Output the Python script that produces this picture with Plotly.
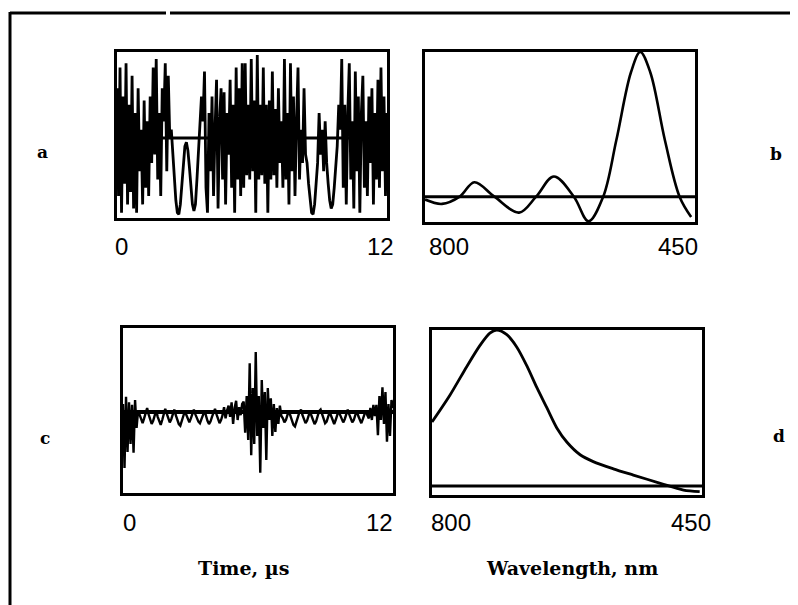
import numpy as np
import plotly.graph_objects as go

# ---- Data ----
# Panel a: time signal, 0-12 us
sig_a = [0.6,-0.7,0.85,-0.9,0.5,-0.55,0.9,-0.8,0.4,-0.65,0.75,-0.85,
         0.3,-0.9,0.6,-0.4,0.1,-0.8,0.45,-0.6,0.2,-0.7,0.5,-0.3,
         0.85,-0.2,0.95,-0.5,0.3,-0.7,0.6,0.2,0.9,-0.4,0.75,0.0,
         0.1,-0.2,-0.5,-0.75,-0.9,-0.92,-0.8,-0.55,-0.3,-0.1,-0.05,-0.15,-0.35,-0.6,-0.8,-0.88,-0.8,-0.5,-0.2,0.2,0.5,0.2,
         0.8,-0.6,-0.9,0.3,-0.4,0.5,-0.7,0.1,0.7,-0.85,0.2,0.6,-0.5,0.55,-0.8,0.3,-0.2,0.7,-0.6,0.4,-0.9,0.85,-0.5,0.6,-0.7,0.9,-0.6,
         0.9,-0.45,0.4,-0.5,0.95,-0.4,0.45,-0.9,1.0,-0.5,0.4,-0.45,0.85,-0.55,0.4,-0.9,0.45,-0.5,0.8,-0.45,0.35,-0.6,0.6,-0.3,
         0.2,-0.6,0.95,-0.5,0.3,-0.8,0.9,-0.4,0.5,-0.7,0.2,0.85,-0.5,0.1,-0.3,0.6,-0.2,
         -0.3,-0.55,-0.75,-0.9,-0.92,-0.8,-0.55,-0.3,0.3,-0.2,0.1,-0.4,0.2,-0.3,-0.55,-0.75,-0.85,-0.8,-0.6,-0.35,-0.1,0.4,0.1,
         0.95,-0.6,0.4,-0.8,0.3,0.9,-0.5,0.2,-0.85,0.8,-0.4,0.5,-0.9,0.3,0.75,-0.6,0.2,-0.7,0.5,-0.3,0.6,-0.8,0.3,-0.5,0.7,-0.6,0.85,-0.4,0.5,-0.7,0.3]

# Panel b: spectrum, wavelength 800 -> 450 nm
wl_b = [800, 778, 755, 736, 710, 678, 656, 633, 607, 588, 569, 552, 533, 521, 508, 489, 470, 455]
sp_b = [-0.02, -0.05, 0.0, 0.10, 0.0, -0.11, 0.0, 0.14, 0.0, -0.17, 0.0, 0.39, 0.86, 1.0, 0.86, 0.39, 0.0, -0.14]

# Panel c: time signal, 0-12 us
sig_c = [0.1,-0.7,0.19,-0.5,0.12,-0.4,0.09,-0.51,0.15,-0.2,
         0.02,-0.04,-0.1,-0.14,-0.08,0.0,0.05,-0.03,-0.09,-0.15,-0.11,-0.04,0.02,-0.06,-0.12,-0.16,-0.1,-0.03,0.04,-0.02,
         -0.08,-0.13,-0.09,-0.02,0.03,-0.04,-0.1,-0.15,-0.17,-0.12,-0.05,0.01,-0.04,-0.09,-0.13,-0.08,-0.02,0.03,-0.03,-0.08,
         -0.12,-0.14,-0.1,-0.04,0.02,-0.05,-0.11,-0.15,-0.12,-0.06,0.0,0.04,-0.03,-0.09,-0.14,-0.1,-0.04,0.06,-0.08,0.02,
         0.08,-0.06,0.12,-0.15,0.05,0.14,-0.1,0.06,-0.04,0.1,
         0.13,-0.26,0.2,-0.35,0.61,-0.54,0.3,-0.4,0.75,-0.3,0.2,-0.76,0.4,-0.2,0.25,-0.6,0.3,-0.1,0.17,-0.3,0.1,-0.25,0.05,-0.15,0.08,-0.05,
         -0.08,-0.13,-0.1,-0.04,0.02,-0.05,-0.11,-0.16,-0.18,-0.13,-0.06,0.0,0.03,-0.04,-0.1,-0.14,-0.11,-0.05,0.01,-0.05,
         -0.1,-0.15,-0.12,-0.06,0.01,0.03,-0.03,-0.09,-0.14,-0.12,-0.06,0.0,-0.05,-0.11,-0.15,-0.1,-0.04,0.02,-0.04,-0.09,
         -0.13,-0.09,-0.03,0.03,-0.03,-0.08,-0.13,-0.1,-0.04,0.02,-0.05,-0.1,-0.14,-0.09,-0.03,0.02,-0.04,-0.08,0.05,-0.1,0.09,-0.05,
         0.09,-0.29,0.2,-0.1,0.31,-0.15,0.25,-0.37,0.1,-0.3,0.15,0.05]

# Panel d: spectrum, wavelength 800 -> 450 nm
wl_d = [800, 777, 755, 738, 725, 716, 703, 690, 677, 664, 651, 638, 625, 608, 591, 565, 539, 504, 474, 453]
sp_d = [0.41, 0.58, 0.765, 0.90, 0.98, 1.0, 0.97, 0.89, 0.77, 0.63, 0.50, 0.37, 0.28, 0.20, 0.156, 0.11, 0.07, 0.017, -0.026, -0.036]

time_range = [0, 12]
wl_range = [800, 450]
tick_time = ["0", "12"]
tick_wl = ["800", "450"]
panel_letters = ["a", "b", "c", "d"]

W, H = 798, 605
OFF = 8  # page body margin
def px(x): return (x - OFF) / W
def py(y): return 1 - (y - OFF) / H

fig = go.Figure()
line = dict(color="black", width=2.8)
base = dict(color="black", width=3)

t_a = np.linspace(time_range[0], time_range[1], len(sig_a))
t_c = np.linspace(time_range[0], time_range[1], len(sig_c))

fig.add_trace(go.Scatter(x=t_a, y=sig_a, mode="lines", line=line, xaxis="x", yaxis="y"))
fig.add_trace(go.Scatter(x=time_range, y=[0, 0], mode="lines", line=base, xaxis="x", yaxis="y"))

fig.add_trace(go.Scatter(x=wl_b, y=sp_b, mode="lines", line=dict(color="black", width=2.6, shape="spline"), xaxis="x2", yaxis="y2"))
fig.add_trace(go.Scatter(x=wl_range, y=[0, 0], mode="lines", line=base, xaxis="x2", yaxis="y2"))

fig.add_trace(go.Scatter(x=t_c, y=sig_c, mode="lines", line=dict(color="black", width=2.4), xaxis="x3", yaxis="y3"))
fig.add_trace(go.Scatter(x=time_range, y=[0, 0], mode="lines", line=dict(color="black", width=4), xaxis="x3", yaxis="y3"))

fig.add_trace(go.Scatter(x=wl_d, y=sp_d, mode="lines", line=dict(color="black", width=2.8, shape="spline", smoothing=0.8), xaxis="x4", yaxis="y4"))
fig.add_trace(go.Scatter(x=wl_range, y=[0, 0], mode="lines", line=base, xaxis="x4", yaxis="y4"))

ax = dict(showline=True, mirror=True, linecolor="black", linewidth=3,
          showgrid=False, zeroline=False, showticklabels=False, ticks="", fixedrange=True)

fig.update_layout(
    width=W, height=H, margin=dict(l=0, r=0, t=0, b=0),
    paper_bgcolor="white", plot_bgcolor="white", showlegend=False,
    xaxis=dict(ax, domain=[px(117), px(387)], range=time_range, anchor="y"),
    yaxis=dict(ax, domain=[py(218), py(52)], range=[-0.964, 1.036], anchor="x"),
    xaxis2=dict(ax, domain=[px(425), px(695)], range=wl_range, anchor="y2"),
    yaxis2=dict(ax, domain=[py(222), py(52)], range=[-0.175, 1.0], anchor="x2"),
    xaxis3=dict(ax, domain=[px(123), px(393)], range=time_range, anchor="y3"),
    yaxis3=dict(ax, domain=[py(493), py(328)], range=[-1.0125, 1.05], anchor="x3"),
    xaxis4=dict(ax, domain=[px(432), px(702)], range=wl_range, anchor="y4"),
    yaxis4=dict(ax, domain=[py(495), py(330)], range=[-0.058, 1.0], anchor="x4"),
)

ann = []
sans = dict(family="Liberation Sans", size=24, color="black")
serif_b = dict(family="DejaVu Serif", size=17, color="black")
serif = dict(family="DejaVu Serif", size=19, color="black")
def A(x, y, text, font):
    ann.append(dict(x=px(x), y=py(y), xref="paper", yref="paper", text=text,
                    showarrow=False, font=font, xanchor="center", yanchor="middle"))

A(121, 246, tick_time[0], sans); A(380, 246, tick_time[1], sans)
A(449, 246, tick_wl[0], sans); A(678, 246, tick_wl[1], sans)
A(129, 522, tick_time[0], sans); A(379, 522, tick_time[1], sans)
A(451, 522, tick_wl[0], sans); A(691, 522, tick_wl[1], sans)
A(42, 152, "<b>%s</b>" % panel_letters[0], serif_b)
A(776, 154, "<b>%s</b>" % panel_letters[1], serif_b)
A(45, 438, "<b>%s</b>" % panel_letters[2], serif_b)
A(779, 436, "<b>%s</b>" % panel_letters[3], serif_b)
A(243, 568, "<b>Time, µs</b>", serif)
A(572, 568, "<b>Wavelength, nm</b>", serif)
fig.update_layout(annotations=ann)

fig.update_layout(shapes=[
    dict(type="line", xref="paper", yref="paper", x0=px(10), x1=px(10), y0=py(12), y1=0,
         line=dict(color="black", width=3)),
    dict(type="line", xref="paper", yref="paper", x0=px(10), x1=px(166), y0=py(13), y1=py(13),
         line=dict(color="black", width=3)),
    dict(type="line", xref="paper", yref="paper", x0=px(170), x1=1, y0=py(13), y1=py(13),
         line=dict(color="black", width=3)),
])

fig.write_html("out.html")
